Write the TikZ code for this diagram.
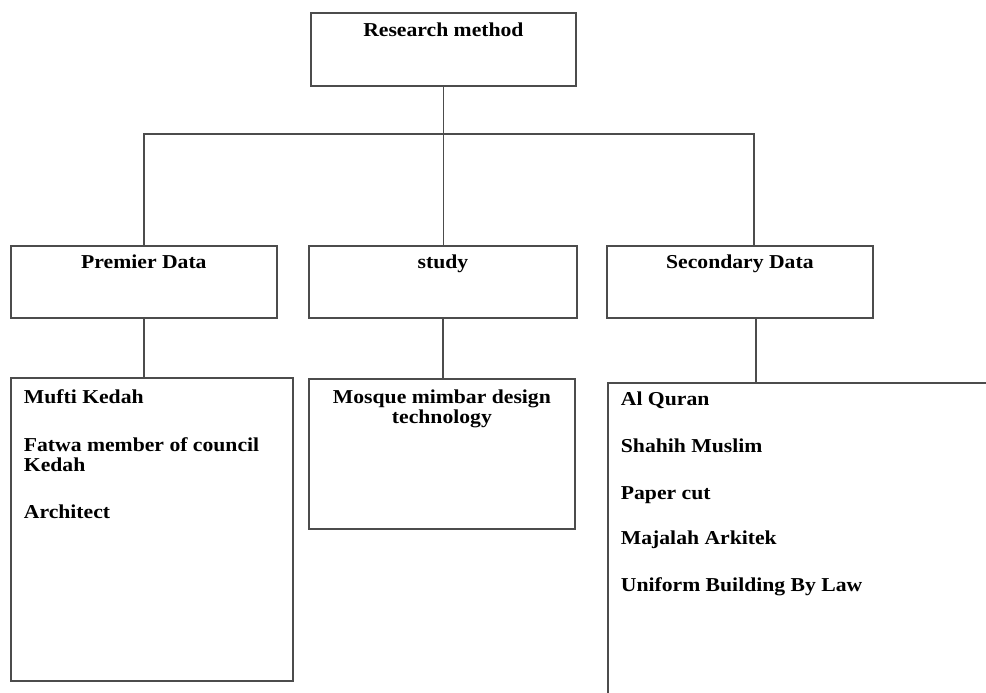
\documentclass[tikz,border=0pt]{standalone}
\usepackage{fontspec}
\setmainfont{Liberation Serif}[FakeStretch=1.1]
\usetikzlibrary{positioning}
\begin{document}
\begin{tikzpicture}[x=1pt, y=-1pt, line width=1.8pt,
    box/.style={draw=black!70, anchor=north west, inner sep=0pt},
    txt/.style={font=\bfseries\fontsize{19.7}{20}\selectfont, inner sep=0pt, anchor=base, align=center},
    link/.style={draw=black!70}]
  \useasboundingbox (0,0) rectangle (986,693);
  \clip (0,0) rectangle (986,693);
  % boxes
  \node[box, minimum width=265pt, minimum height=73pt] (method) at (310,12) {};
  \node[box, minimum width=266pt, minimum height=72pt] (prem) at (10,245) {};
  \node[box, minimum width=268pt, minimum height=72pt] (study) at (308,245) {};
  \node[box, minimum width=266pt, minimum height=72pt] (sec) at (606,245) {};
  \node[box, minimum width=282pt, minimum height=303pt] (mufti) at (10,377) {};
  \node[box, minimum width=266pt, minimum height=150pt] (tech) at (308,378) {};
  \node[box, minimum width=400pt, minimum height=330pt] (refs) at (607,382) {};
  % texts (base = last line)
  \node[txt] (methodtxt) at ([yshift=-25pt]method.north) {Research method};
  \node[txt] (premtxt) at ([yshift=-23pt]prem.north) {Premier Data};
  \node[txt] (studytxt) at ([yshift=-23pt]study.north) {study};
  \node[txt] (sectxt) at ([yshift=-23pt]sec.north) {Secondary Data};
  \node[txt, align=left, anchor=base west] (muftitxt) at ([xshift=13pt,yshift=-141pt]mufti.north west)
    {Mufti Kedah\\[28pt] Fatwa member of council\\ Kedah\\[27pt] Architect};
  \node[txt] (techtxt) at ([yshift=-45pt]tech.north) {Mosque mimbar design\\ technology};
  \node[txt, align=left, anchor=base west] (refstxt) at ([xshift=13pt,yshift=-209pt]refs.north west)
    {Al Quran\\[27pt] Shahih Muslim\\[27pt] Paper cut\\[25pt] Majalah Arkitek\\[27pt] Uniform Building By Law};
  % connectors
  \coordinate (bar) at (442,134);
  \draw[link] (method.south) -- (method.south |- study.north);
  \draw[link] (prem.north) |- (bar) -| ([xshift=14pt]sec.north);
  \draw[link] (prem.south) -- (prem.south |- mufti.north);
  \draw[link] (study.south) -- (study.south |- tech.north);
  \draw[link] ([xshift=16pt]sec.south) -- ([xshift=16pt]sec.south |- refs.north);
\end{tikzpicture}
\end{document}
